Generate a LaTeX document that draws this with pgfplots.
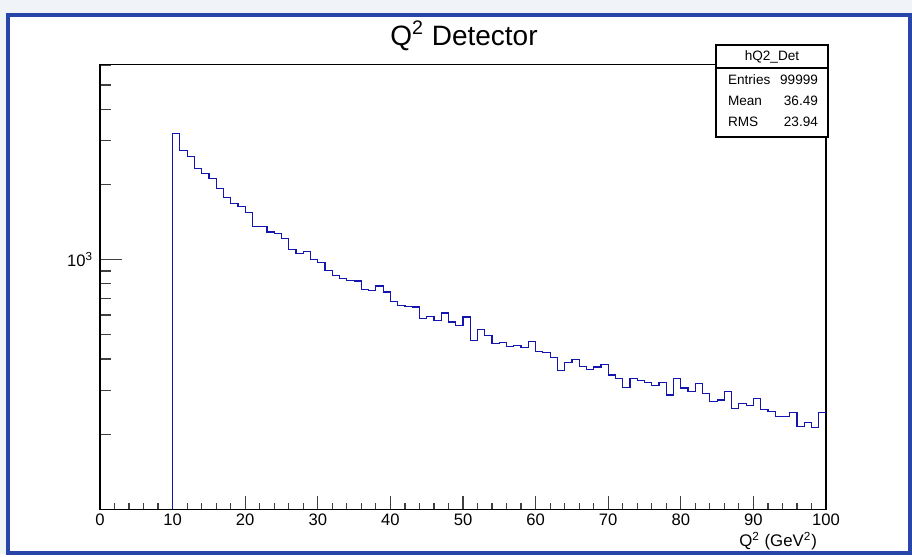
\documentclass[border=0pt]{standalone}
\usepackage{fontspec}
\setmainfont{Liberation Sans}
\usepackage{pgfplots}
\usepackage{pgfplotstable}
\pgfplotsset{compat=1.18}

\definecolor{histblue}{RGB}{20,20,175}
\definecolor{frameblue}{RGB}{40,70,170}
\definecolor{chrome}{RGB}{240,243,248}

% bin low edge, content (99999 entries, 1 GeV^2 bins)
\pgfplotstableread{
x y
10 100
10 3187
11 2742
12 2578
13 2307
14 2211
15 2118
16 1925
17 1766
18 1681
19 1625
20 1547
21 1360
22 1351
23 1290
24 1275
25 1214
26 1097
27 1060
28 1080
29 1000
30 973
31 906
32 860
33 841
34 824
35 821
36 756
37 751
38 784
39 742
40 681
41 656
42 650
43 646
44 580
45 593
46 569
47 611
48 562
49 545
50 589
51 475
52 524
53 497
54 461
55 465
56 448
57 453
58 446
59 471
60 428
61 425
62 405
63 360
64 388
65 397
66 374
67 364
68 371
69 380
70 345
71 333
72 308
73 335
74 328
75 321
76 313
77 323
78 287
79 335
80 306
81 296
82 320
83 291
84 271
85 274
86 297
87 254
88 266
89 261
90 277
91 250
92 247
93 235
94 235
95 244
96 215
97 223
98 213
99 244
100 244
}\histdata

\begin{document}
\begin{tikzpicture}
% canvas, in pixel units of the screenshot
\begin{scope}[x=0.5bp,y=-0.5bp,shift={(-100,-509.3)}]
  \useasboundingbox (0,0) rectangle (912,554);
  \fill[chrome] (0,0) rectangle (912,554);
  \fill[white] (8,15) rectangle (910,553);
  \draw[frameblue, line width=2] (8,15) rectangle (910,553);
\end{scope}

\begin{axis}[
    at={(0,0)}, anchor=south west,
    scale only axis,
    width=363bp, height=222.5bp,
    xmin=0, xmax=100,
    ymode=log, ymin=100, ymax=6050,
    xtick={0,10,...,100},
    minor x tick num=4,
    ytick={1000},
    yticklabels={10\textsuperscript{3}},
    minor ytick={200,300,400,500,600,700,800,900,2000,3000,4000,5000,6000},
    tick align=inside,
    tick pos=left,
    axis line style={line width=0.6bp},
    tick style={black!75, line width=0.6bp},
    x tick style={/pgfplots/major tick length=6.5bp,/pgfplots/minor tick length=3.3bp},
    y tick style={/pgfplots/major tick length=10.9bp,/pgfplots/minor tick length=5.4bp},
    tick label style={font=\fontsize{8.3bp}{10bp}\selectfont},
    xticklabel style={yshift=1bp},
    /pgf/number format/assume math mode=true,
]
  \addplot[const plot mark left, histblue, line width=0.6bp, mark=none] table[x=x, y=y] {\histdata};
\end{axis}

% title, stats box, axis title
\begin{scope}[x=0.5bp,y=-0.5bp,shift={(-100,-509.3)}]
  \node[font=\fontsize{14bp}{16bp}\selectfont] at (464,36) {Q\textsuperscript{2} Detector};
  \fill[white] (716,45) rectangle (828,137);
  \draw[line width=0.6bp] (716,45) rectangle (828,137);
  \draw[line width=0.6bp] (716,68) -- (828,68);
  \begin{scope}[font=\fontsize{6.8bp}{8bp}\selectfont]
    \node at (772,57) {hQ2\_Det};
    \node[anchor=west] at (721,80) {Entries};
    \node[anchor=east] at (825,80) {99999};
    \node[anchor=west] at (721,101) {Mean};
    \node[anchor=east] at (825,101) {36.49};
    \node[anchor=west] at (721,122) {RMS};
    \node[anchor=east] at (825,122) {23.94};
  \end{scope}
  \node[anchor=east, font=\fontsize{8.4bp}{10bp}\selectfont] at (824,541) {Q\textsuperscript{2} (GeV\textsuperscript{2})};
\end{scope}
\end{tikzpicture}
\end{document}
